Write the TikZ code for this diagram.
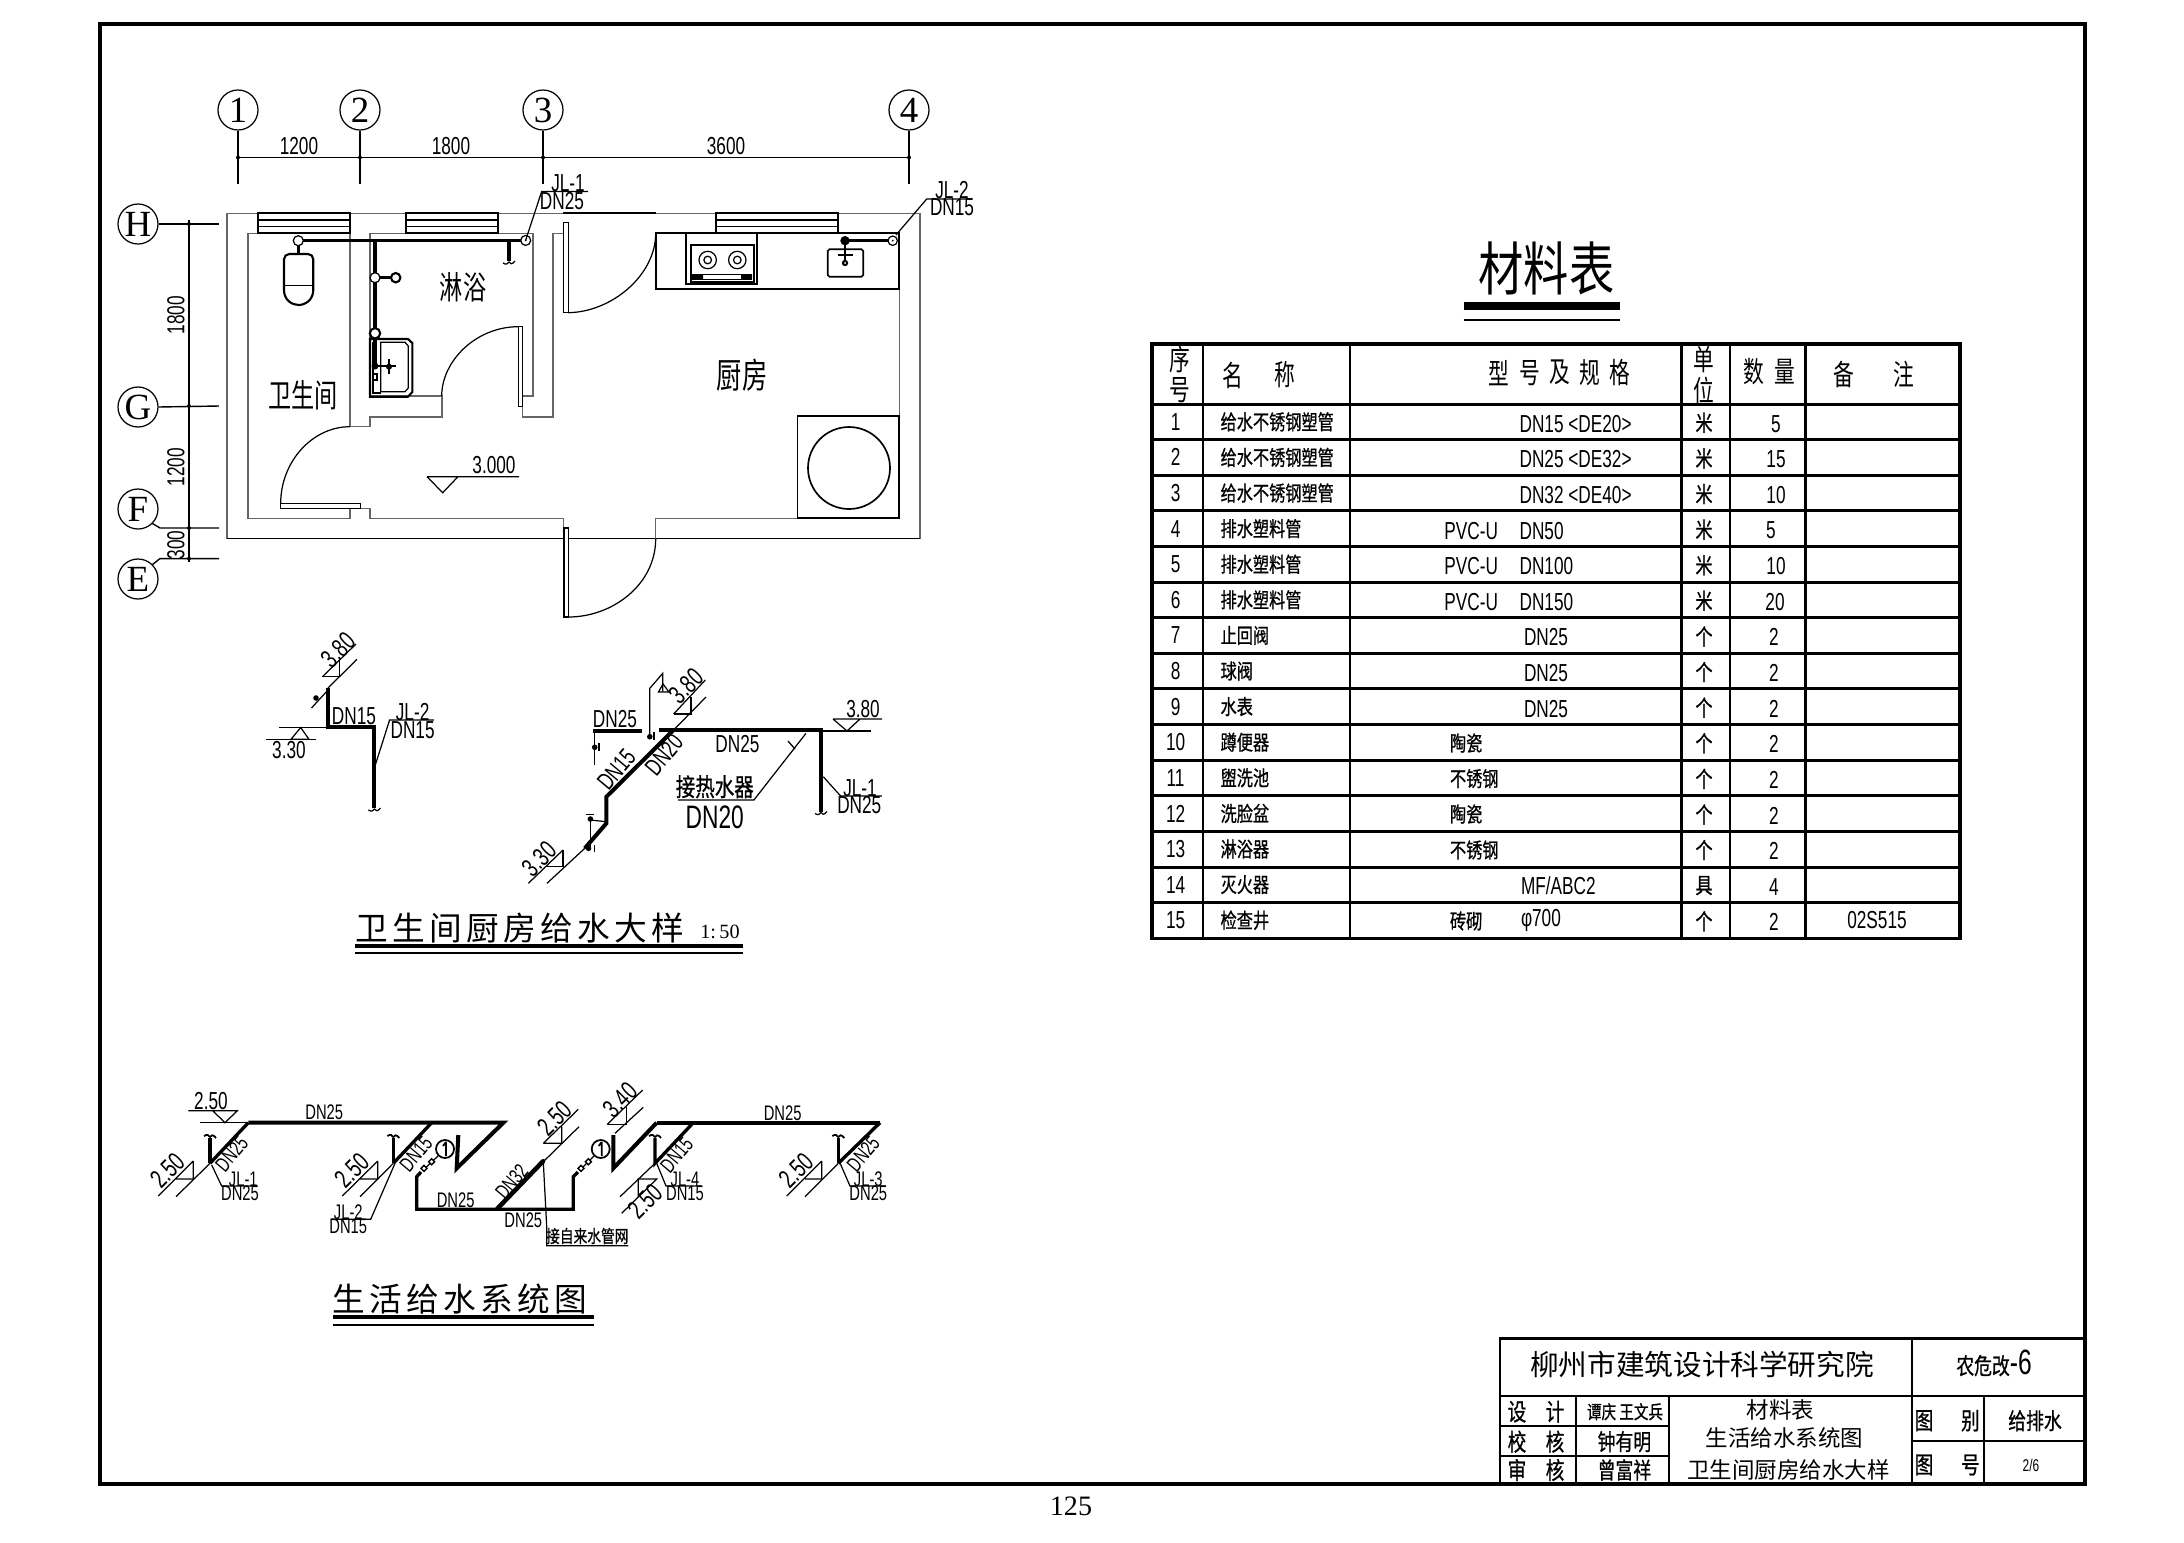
\documentclass[tikz,border=0pt]{standalone}
\usepackage{fontspec}
\setmainfont{Liberation Serif}
\newfontfamily\cad[FakeStretch=0.7]{Liberation Sans}
\newfontfamily\cjk[FakeStretch=0.72]{Noto Sans CJK SC}
\newfontfamily\cjkb[FakeStretch=0.78,FakeBold=0.8]{Noto Sans CJK SC}
\newfontfamily\cjkn{Noto Sans CJK SC}
\newfontfamily\cjkt[FakeStretch=0.78]{Noto Sans CJK SC}
\newfontfamily\cjks[LetterSpace=13]{Noto Sans CJK SC}
\newcommand\fz[1]{\fontsize{#1}{#1}\selectfont}
\tikzset{
 thinl/.style={line width=0.7pt,black},
 wallg/.style={line width=0.75pt,black!60},
 wallk/.style={line width=0.95pt,black},
 pipe/.style={line width=2.3pt,black},
 pipem/.style={line width=1.9pt,black},
 gridl/.style={line width=0.8pt,black},
 frm/.style={line width=2.3pt,black},
 tline/.style={line width=1.3pt,black},
 tlineb/.style={line width=1.7pt,black},
 txt/.style={inner sep=0pt,outer sep=0pt},
 dim/.style={txt,font=\cad\fz{14}},
 dims/.style={txt,font=\cad\fz{12}},
 ev/.style={txt,font=\cad\fz{15},rotate=45},
 cname/.style={txt,font=\cjkb\fz{11.8},anchor=west},
 chead/.style={txt,font=\cjk\fz{16.4}},
 cnum/.style={txt,font=\cad\fz{14}},
 axc/.style={draw,circle,minimum size=40*0.02cm,inner sep=0pt,line width=0.7pt,font=\fz{21}},
}
\newcommand\hookd[2]{\draw[thinl] (#1-6,#2+1) .. controls (#1-3,#2+3) and (#1-1,#2+2) .. (#1,#2) .. controls (#1+1,#2+2) and (#1+3,#2+3) .. (#1+6,#2-1);}
\newcommand\hooku[2]{\draw[line width=1pt] (#1-6,#2-1) .. controls (#1-3,#2-3) and (#1-1,#2-2) .. (#1,#2) .. controls (#1+1,#2-2) and (#1+3,#2-3) .. (#1+6,#2+1);}
\newcommand\vlv[2]{\draw[line width=0.8pt,fill=white] (#1-3,#2) -- (#1,#2-3) -- (#1+3,#2) -- (#1,#2+3) -- cycle;}
\newcommand\dotv[2]{\fill (#1,#2) circle (2.8);}
\begin{document}
\begin{tikzpicture}[x=0.02cm,y=-0.02cm]
\useasboundingbox (0,0) rectangle (2184,1542);
\fill[white] (0,0) rectangle (2184,1542);
% frame
\draw[line width=2.4pt] (100,24) rectangle (2085,1484);
\node[txt,font=\fz{16}] (pageno) at (1071,1506) {125};
% ---------- axes
\foreach \n/\x/\l in {a1/238/1,a2/360/2,a3/543/3,a4/909/4}{
 \node[axc] (\n) at (\x,110) {\l};
 \draw[gridl] (\n.south) -- (\x,184);
 \fill (\x,157.5) circle (2);
}
\draw[gridl] (238,157.5) -- (909,157.5);
\node[dim] (d1) at (299,146) {1200};
\node[dim] (d2) at (451,146) {1800};
\node[dim] (d3) at (726,146) {3600};
\node[axc] (ah) at (138,224) {H};
\node[axc] (ag) at (138,407) {G};
\node[axc] (af) at (138,509) {F};
\node[axc] (ae) at (138,579) {E};
\draw[gridl] (ah.east) -- (219,224);
\draw[gridl] (ag.east) -- (219,406);
\draw[gridl] (af.south east) -- (160,528) -- (219,528);
\draw[gridl] (ae.north east) -- (160,558.6) -- (219,558.6);
\draw[gridl] (189,220) -- (189,562);
\foreach \y in {224,406,528,558.6}{\fill (189,\y) circle (2);}
\node[dim,rotate=90] (d4) at (176,315) {1800};
\node[dim,rotate=90] (d5) at (176,467) {1200};
\node[dim,rotate=90] (d6) at (176,545) {300};
% ---------- walls
\draw[wallg] (227,538.6) -- (227,213.3) -- (563,213.3);
\draw[wallg] (655.7,213.3) -- (920,213.3) -- (920,538.6);
\draw[line width=1pt] (227,538.6) -- (920,538.6);
\draw[wallk] (563,213.3) -- (655.7,213.3);
\draw[wallg] (258,233.3) -- (248,233.3) -- (248,518.3) -- (350,518.3) -- (350,508.3);
\draw[wallg] (350,233.3) -- (350,426.7);
\draw[wallg] (350,426.7) -- (370,426.7) -- (370,417) -- (442,417) -- (442,396) -- (370,396) -- (370,233.3) -- (405.7,233.3);
\draw[wallg] (497.7,233.3) -- (533,233.3) -- (533,396) -- (522.7,396);
\draw[wallg] (522.7,406.7) -- (522.7,417) -- (553,417) -- (553,233.3) -- (563.3,233.3);
\draw[wallg] (360.7,508.3) -- (370,508.3) -- (370,518.3) -- (563.3,518.3) -- (563.3,528);
\draw[wallg] (655.7,538.6) -- (655.7,518.3) -- (797.5,518.3);
\draw[wallg] (899.3,289) -- (899.3,518.3);
% windows
\foreach \a/\b in {258.3/350,405.7/497.7,715.7/838}{
 \draw[line width=1pt] (\a,213.3) rectangle (\b,232.9);
 \draw[line width=1pt] (\a,220) -- (\b,220) (\a,226.5) -- (\b,226.5);
}
% doors
\draw[thinl,fill=white] (563.3,222.7) rectangle (568.3,312.7);
\draw[thinl] (568.3,312.7) .. controls (612,312) and (655.7,275) .. (655.7,233.3);
\draw[thinl,fill=white] (518.3,326.7) rectangle (522.7,406.7);
\draw[thinl] (518.3,326.7) .. controls (476,326.7) and (441.7,361) .. (441.7,396);
\draw[thinl,fill=white] (280.7,503.3) rectangle (360.7,508.3);
\draw[thinl] (280.7,503.3) .. controls (280.7,462) and (312,426.7) .. (350,426.7);
\draw[thinl,fill=white] (564,528) rectangle (568.6,617);
\draw[thinl] (568.6,617) .. controls (612,617) and (655.7,585) .. (655.7,538.6);
% counter and stove
\draw[wallk] (655.7,233.3) rectangle (899.3,289);
\draw[wallk] (685.7,233.3) rectangle (757,284);
\draw[wallk] (690.7,245) rectangle (754.3,281.7);
\foreach \x in {707.7,737.3}{\draw[thinl] (\x,260) circle (8.7); \draw[thinl] (\x,260) circle (3.8);}
\draw[thinl] (692.7,274.3) rectangle (751.7,279.3);
\fill (693,274.3) rectangle (703,279.3) (741,274.3) rectangle (752,279.3);
% kitchen sink
\draw[wallk,rounded corners=1] (827.7,249.3) rectangle (863.3,276.7);
\draw[line width=1.6pt] (845,240.7) -- (892.7,240.7);
\fill (845,240.7) circle (4.7);
\draw[thinl] (845,240.7) -- (845,262.7) (837.7,255) -- (852.7,255);
\fill (845,263) circle (3.2);
\draw[thinl,fill=white] (892.7,240.7) circle (4.7);
\fill (892.7,240.7) circle (1);
\fill[white] (845,263) circle (1);
% washing machine
\draw[wallk] (797.5,415.7) rectangle (899.3,518.3);
\draw[wallk] (849,468) circle (41);
% pipes bath
\draw[pipem] (298.3,240.4) -- (521.7,240.4);
\draw[pipem] (375,240) -- (375,330);
\draw[pipem] (375,277.7) -- (395.7,277.7);
\draw[pipem] (509,240) -- (509,261);
\hookd{509}{262}
\draw[thinl,fill=white] (298.3,240.7) circle (5);
\draw[thinl,fill=white] (375,277.7) circle (5);
\draw[line width=1.2pt,fill=white] (395.7,277.7) circle (4.7);
\draw[line width=1.2pt,fill=white] (375,333.3) circle (5.2);
\draw[thinl,fill=white] (525.7,240.4) circle (5);
\fill (525.7,240.4) circle (1);
% toilet
\draw[line width=1.4pt] (298.3,246) -- (298.3,254);
\draw[line width=1.2pt,rounded corners=3] (284,290) -- (284,254) -- (313.3,254) -- (313.3,290);
\draw[line width=1.2pt] (284,290) .. controls (284,300) and (292,305) .. (298.6,305) .. controls (305,305) and (313.3,300) .. (313.3,290);
\draw[thinl] (284,285.7) -- (313.3,285.7);
% wash tray
\draw[line width=1.2pt] (370,339) -- (408,339) -- (412.3,343) -- (412.3,392) -- (408,396.7) -- (370,396.7) -- cycle;
\draw[thinl] (380.7,342.3) -- (405,342.3) -- (408.3,346) -- (408.3,388) -- (405,391.7) -- (380.7,391.7) -- cycle;
\draw[line width=1.3pt] (373,342) -- (373,393) -- (380.7,393);
\draw[line width=2.3pt] (375,339) -- (375,366);
\fill (375,366) circle (3.5);
\draw[thinl] (375,366) -- (396,366) (389,359) -- (389,374);
\fill (389,366.7) circle (3);
\draw[thinl] (373,374) rectangle (377,380);
% room texts
\node[txt,font=\cjk\fz{20}] (rk) at (742,375) {厨房};
\node[txt,font=\cjk\fz{18.3}] (rs) at (463,287) {淋浴};
\node[txt,font=\cjk\fz{18.3}] (rb) at (303,395) {卫生间};
\node[dim] (lv) at (494,465) {3.000};
\draw[thinl] (427,476.7) -- (519,476.7) (427,476.7) -- (442.7,492.7) -- (458,476.7);
% JL leaders in plan
\draw[thinl] (525.7,240) -- (541.7,191.4) -- (588,191.4);
\node[dim] (j1) at (568,183) {JL-1};
\node[dim] (j1b) at (562,201) {DN25};
\draw[thinl] (896,235) -- (926.7,199) -- (972.7,199);
\node[dim] (j2) at (952,190.5) {JL-2};
\node[dim] (j2b) at (952,207.5) {DN15};
% ---------- detail left
\draw[thinl] (279,727.3) -- (328,727.3);
\draw[pipe] (328,688) -- (328,727.3) -- (374.4,727.3) -- (374.4,808);
\hookd{374.4}{809}
\draw[thinl] (300.7,727.5) -- (291,739.3) -- (309,739.3) -- cycle;
\draw[thinl] (266,739.3) -- (316,739.3);
\node[dim] (e1) at (289,750) {3.30};
\draw[thinl] (328,688) -- (357,659.3);
\draw[thinl] (322.4,676.7) -- (356,644);
\draw[thinl] (322.4,676.7) -- (339.7,676.7) -- (339.7,659.3);
\node[ev] (e2) at (338,650) {3.80};
\draw[thinl] (328,690) -- (311.5,708);
\dotv{316}{698}
\node[dim] (l1) at (354,715.7) {DN15};
\node[dim] (l2) at (412.6,711.7) {JL-2};
\node[dim] (l3) at (412.6,730) {DN15};
\draw[thinl] (375.3,765) -- (389.6,720) -- (433.8,720);
% ---------- detail right
\draw[pipe] (658.5,730) -- (821,730) -- (821,811.7);
\hookd{821}{812.5}
\draw[thinl] (821,731) -- (871,731);
\draw[thinl] (833,719) -- (847,731) -- (860,719) (833,719) -- (882,719);
\node[dim] (e3) at (863,709) {3.80};
\draw[pipe] (673.6,730) -- (606.4,796.7) -- (606.4,823.3) -- (584.8,848.3);
\draw[thinl] (584.8,848.3) -- (547,883.3);
\draw[thinl] (673.6,730) -- (706,697);
\draw[thinl] (673.6,714) -- (705.3,680);
\draw[thinl] (673.6,714) -- (691,714) -- (691,697);
\node[ev] (e4) at (686,686) {3.80};
\draw[thinl] (649.8,736) -- (649.8,688.3) -- (662.8,673.3) -- (662.8,691.7);
\draw[thinl] (658.5,692) -- (663,684) -- (669,692) -- cycle;
\dotv{649.8}{736.7}
\draw[thinl] (654,732) -- (654,740);
\draw[pipe] (593.4,731) -- (642.4,731);
\draw[thinl] (594.7,731) -- (594.7,765);
\dotv{594.7}{747.3}
\draw[thinl] (599,743) -- (599,751);
\node[dim] (l4) at (615,719) {DN25};
\node[dim,rotate=50] (l5) at (616.4,769.3) {DN15};
\node[dim,rotate=50] (l6) at (664,755) {DN20};
\node[dim] (l7) at (737.4,744) {DN25};
\draw[thinl] (806,733.3) -- (753.9,800) -- (678,800);
\draw[thinl] (788,741) -- (795,749);
\node[txt,font=\cjkb\fz{14.2}] (hw) at (714.8,786.7) {接热水器};
\node[txt,font=\cad\fz{18.5}] (hw2) at (714.8,817.3) {DN20};
\node[dim] (l8) at (860,788.3) {JL-1};
\node[dim] (l9) at (859.3,805) {DN25};
\draw[thinl] (823.3,776.7) -- (840.6,796) -- (881.8,796);
\draw[thinl] (590.4,816.7) -- (590.4,850);
\draw[thinl] (590.4,820) -- (606.4,821.7);
\draw[thinl] (586,814.5) -- (594,814.5);
\dotv{590.4}{819}
\dotv{588.5}{848.3}
\draw[thinl] (594.5,845) -- (594.5,852);
\draw[thinl] (528.4,883.3) -- (563,850);
\draw[thinl] (547,866.7) -- (563,866.7) -- (563,850);
\node[ev] (e5) at (539,859) {3.30};
% title 1
\node[txt,font=\cjks\fz{18.6}] (t1) at (520,928) {卫生间厨房给水大样};
\node[txt,font=\fz{11.5}] (t1s) at (720,932) {1:\,50};
\draw[line width=2pt] (355,946) -- (743,946);
\draw[line width=1pt] (355,953.3) -- (743,953.3);
% ---------- system
\draw[thinl] (200,1122.7) -- (248.3,1122.7);
\draw[pipe] (248.3,1122.7) -- (503.3,1122.7) -- (456.7,1168.3) -- (458.3,1135);
\draw[thinl] (212.7,1110.7) -- (225,1122.7) -- (237.3,1110.7) (188.3,1110.7) -- (238.3,1110.7);
\node[dim] (s1) at (211,1100.7) {2.50};
\node[dims] (s2) at (324.3,1112.3) {DN25};
% risers
\foreach \nm/\tx/\bx/\lx/\ty in {r1/248.3/210/176/DN25,r2/431.7/393.3/360/DN15,r5/880/838.3/805/DN25}{
 \draw[pipem] (\tx,1122.7) -- (\bx,1163.3);
 \draw[pipem] (\bx,1163.3) -- (\bx,1138);
 \hooku{\bx}{1137}
 \draw[thinl] (\bx,1163.3) -- (\lx,1196.7);
}
\draw[thinl] (158.3,1196) -- (193.3,1161) (176,1179) -- (193.3,1179) -- (193.3,1161);
\node[ev] (s3) at (167.3,1170.7) {2.50};
\node[dims,rotate=50] (s4) at (231.7,1154) {DN25};
\draw[thinl] (211.7,1165) -- (221.7,1186) -- (257.7,1186);
\node[dims] (s5) at (243.3,1179) {JL-1};
\node[dims] (s6) at (240,1193) {DN25};
\draw[thinl] (342.3,1196) -- (377.7,1161) (360,1179) -- (377.7,1179) -- (377.7,1161);
\node[ev] (s7) at (351.7,1170.7) {2.50};
\node[dims,rotate=50] (s8) at (416,1154) {DN15};
\draw[thinl] (395,1163.3) -- (370.7,1219.3) -- (331.7,1219.3);
\node[dims] (s9) at (348.3,1212) {JL-2};
\node[dims] (s10) at (348.3,1226.5) {DN15};
% meters
\foreach \mx in {445,600.7}{
 \draw[line width=1pt,fill=white] (\mx,1149) circle (9);
 \draw[line width=1pt] (\mx+1,1142) -- (\mx+1,1156) (\mx+1,1142) -- (\mx-2,1146);
}
\draw[thinl] (438,1156) -- (425,1168.3);
\vlv{431.7}{1161.7}
\vlv{424}{1168.3}
\draw[pipem] (421,1172) -- (416.7,1176.7) -- (416.7,1209.3) -- (573.3,1209.3) -- (573.3,1176.7) -- (578,1172);
\draw[thinl] (594,1156) -- (581.7,1168.3);
\vlv{588.3}{1161.7}
\vlv{581}{1168.3}
\draw[pipe] (656.7,1122.7) -- (613.3,1168.3) -- (613.3,1135);
\draw[pipe] (656.7,1122.7) -- (880,1122.7);
\draw[line width=2.6pt] (497,1209) -- (543.3,1161);
\fill (543.3,1161) circle (2);
\draw[thinl] (543.3,1161.7) -- (579,1126.7);
\draw[thinl] (543.3,1143.3) -- (578.3,1109.3) (543.3,1143.3) -- (561.7,1143.3) -- (561.7,1126.7);
\node[ev] (s11) at (554.3,1118.3) {2.50};
\draw[thinl] (607.3,1124.3) -- (642.7,1090);
\draw[thinl] (615,1133.3) -- (643.3,1107.3);
\draw[thinl] (607.3,1124.3) -- (626.7,1124.3) -- (626.7,1107.3);
\node[ev] (s12) at (620,1100) {3.40};
\node[dims,rotate=50] (s13) at (511.7,1181.7) {DN32};
\draw[thinl] (543.3,1161.7) -- (546.7,1226.7) -- (546.7,1245.7) -- (628.3,1245.7);
\node[txt,font=\cjkb\fz{10}] (s14) at (587.3,1236) {接自来水管网};
\node[dims] (s15) at (523.3,1220) {DN25};
\node[dims] (s16) at (455.7,1200) {DN25};
\node[dims] (s17) at (782.7,1113.3) {DN25};
% riser 4
\draw[pipem] (693.3,1122.7) -- (655,1163.3) -- (655,1138);
\hooku{655}{1137}
\draw[thinl] (655,1163.3) -- (620,1196.7);
\draw[thinl] (621.7,1213.3) -- (656.7,1179) -- (638.3,1179) -- (638.3,1196.7);
\node[ev] (s18) at (645,1201.7) {2.50};
\node[dims,rotate=50] (s19) at (676.7,1155) {DN15};
\draw[thinl] (656.7,1163.3) -- (666,1186) -- (701.7,1186);
\node[dims] (s20) at (685,1179) {JL-4};
\node[dims] (s21) at (685,1193) {DN15};
% riser 5
\draw[thinl] (786.7,1196) -- (821.7,1161) (805,1179) -- (821.7,1179) -- (821.7,1161);
\node[ev] (s22) at (796,1170.7) {2.50};
\node[dims,rotate=50] (s23) at (863.3,1154) {DN25};
\draw[thinl] (840,1163) -- (850,1186) -- (886,1186);
\node[dims] (s24) at (868.3,1179) {JL-3};
\node[dims] (s25) at (868.3,1193) {DN25};
% title 2
\node[txt,font=\cjks\fz{18.6}] (t2) at (460,1299) {生活给水系统图};
\draw[line width=2pt] (333,1317) -- (594,1317);
\draw[line width=1pt] (333,1325) -- (594,1325);
% ---------- material table
\node[txt,font=\cjkt\fz{33}] (mt) at (1546.5,268) {材料表};
\fill (1463.6,301.7) rectangle (1620,309.5);
\draw[line width=0.9pt] (1463.6,320) -- (1620,320);
\draw[line width=1.8pt] (1152,344) rectangle (1960,938.3);
\foreach \x in {1203,1350,1681.4,1729.7,1805.4}{\draw[tline] (\x,344) -- (\x,938.3);}
\foreach \y in {404,439.6,475.2,510.9,546.5,582.1,617.7,653.3,688.9,724.6,760.2,795.8,831.4,867,902.7}{\draw[tlineb] (1152,\y) -- (1960,\y);}
\node[chead] (h1) at (1179.5,360) {序};
\node[chead] (h2) at (1179.5,390) {号};
\node[chead] (h3) at (1233,375) {名};
\node[chead] (h4) at (1285,375) {称};
\node[chead] (h5) at (1499,372.7) {型};
\node[chead] (h6) at (1529.5,372.7) {号};
\node[chead] (h7) at (1559.6,372.7) {及};
\node[chead] (h8) at (1590,372.7) {规};
\node[chead] (h9) at (1620,372.7) {格};
\node[chead] (h10) at (1704,360) {单};
\node[chead] (h11) at (1704,390) {位};
\node[chead] (h12) at (1754,371.7) {数};
\node[chead] (h13) at (1784.5,371.7) {量};
\node[chead] (h14) at (1843.8,374) {备};
\node[chead] (h15) at (1904,374) {注};
\foreach \i/\y/\nm/\u/\q/\qx in {
 1/421.8/给水不锈钢塑管/米/5/1776, 2/457.4/给水不锈钢塑管/米/15/1776, 3/493/给水不锈钢塑管/米/10/1776,
 4/528.6/排水塑料管/米/5/1771, 5/564.2/排水塑料管/米/10/1776, 6/599.8/排水塑料管/米/20/1775,
 7/635.4/止回阀/个/2/1774, 8/671/球阀/个/2/1774, 9/706.6/水表/个/2/1774,
 10/742.2/蹲便器/个/2/1774, 11/777.8/盥洗池/个/2/1774, 12/813.4/洗脸盆/个/2/1774,
 13/849/淋浴器/个/2/1774, 14/884.6/灭火器/具/4/1774, 15/920.2/检查井/个/2/1774}{
 \node[cnum] (n\i) at (1175.6,\y) {\i};
 \node[cname] (m\i) at (1220.6,\y) {\nm};
 \node[txt,font=\cjkb\fz{12.5}] (u\i) at (1704,\y+1) {\u};
 \node[cnum] (q\i) at (\qx,\y+2) {\q};
}
\foreach \i/\y/\s in {1/423.8/DN15 <DE20>,2/459.4/DN25 <DE32>,3/495/DN32 <DE40>,4/530.6/DN50,5/566.2/DN100,6/601.8/DN150}{
 \node[dim,anchor=west] (sa\i) at (1519.6,\y) {\s};
}
\foreach \i/\y in {4/530.6,5/566.2,6/601.8}{
 \node[dim,anchor=west] (sp\i) at (1444.4,\y) {PVC-U};
}
\foreach \i/\y in {7/637.4,8/673,9/708.6}{
 \node[dim,anchor=west] (sd\i) at (1524,\y) {DN25};
}
\node[cname] (c10) at (1450,743) {陶瓷};
\node[cname] (c11) at (1450,778.6) {不锈钢};
\node[cname] (c12) at (1450,814) {陶瓷};
\node[cname] (c13) at (1450,850) {不锈钢};
\node[dim,anchor=west] (c14) at (1521,885.6) {MF/ABC2};
\node[cname] (c15) at (1450,921) {砖砌};
\node[dim,anchor=west] (c15b) at (1521,920.2) {φ700};
\node[dim] (c15c) at (1877,920.2) {02S515};
% ---------- title block
\fill[white] (1500,1338.3) rectangle (2085,1484);
\draw[line width=1.5pt] (1500,1338.3) rectangle (2085,1484);
\draw[line width=2.4pt] (1500,1484) -- (2085,1484) -- (2085,1338.3);
\draw[tline] (1500,1396) -- (2085,1396);
\draw[tline] (1912.3,1338.3) -- (1912.3,1484);
\draw[tline] (1576,1396) -- (1576,1484);
\draw[tline] (1668.7,1396) -- (1668.7,1484);
\draw[tline] (1500,1426) -- (1668.7,1426);
\draw[tline] (1500,1455.7) -- (1668.7,1455.7);
\draw[tline] (1984,1396) -- (1984,1484);
\draw[tline] (1912.3,1441) -- (2085,1441);
\node[txt,font=\cjkn\fz{16.3}] (b1) at (1702,1365) {柳州市建筑设计科学研究院};
\node[txt] (b2) at (1994,1363) {{\cjkb\fz{13}农危改}{\cad\fz{20}-6}};
\node[txt,font=\cjkb\fz{13.6}] (b3) at (1517,1411.7) {设};
\node[txt,font=\cjkb\fz{13.6}] (b4) at (1555,1411.7) {计};
\node[txt,font=\cjkb\fz{13.6}] (b5) at (1517,1441.7) {校};
\node[txt,font=\cjkb\fz{13.6}] (b6) at (1555,1441.7) {核};
\node[txt,font=\cjkb\fz{13.6}] (b7) at (1517,1470) {审};
\node[txt,font=\cjkb\fz{13.6}] (b8) at (1555,1470) {核};
\node[txt,font=\cjkb\fz{10.6}] (b9) at (1625,1411.7) {谭庆 王文兵};
\node[txt,font=\cjkb\fz{13}] (b10) at (1624.4,1441.7) {钟有明};
\node[txt,font=\cjkb\fz{13}] (b11) at (1624.4,1470) {曾富祥};
\node[txt,font=\cjkn\fz{12.8}] (b12) at (1780.6,1410) {材料表};
\node[txt,font=\cjkn\fz{12.8}] (b13) at (1784.6,1438) {生活给水系统图};
\node[txt,font=\cjkn\fz{12.8}] (b14) at (1788.5,1470) {卫生间厨房给水大样};
\node[txt,font=\cjkb\fz{13.6}] (b15) at (1924,1420.7) {图};
\node[txt,font=\cjkb\fz{13.6}] (b16) at (1970.4,1420.7) {别};
\node[txt,font=\cjkb\fz{13.6}] (b17) at (1924,1465) {图};
\node[txt,font=\cjkb\fz{13.6}] (b18) at (1970.4,1465) {号};
\node[txt,font=\cjkb\fz{13}] (b19) at (2035,1420.7) {给排水};
\node[txt,font=\cad\fz{9.7}] (b20) at (2031,1465) {2/6};
\end{tikzpicture}
\end{document}
